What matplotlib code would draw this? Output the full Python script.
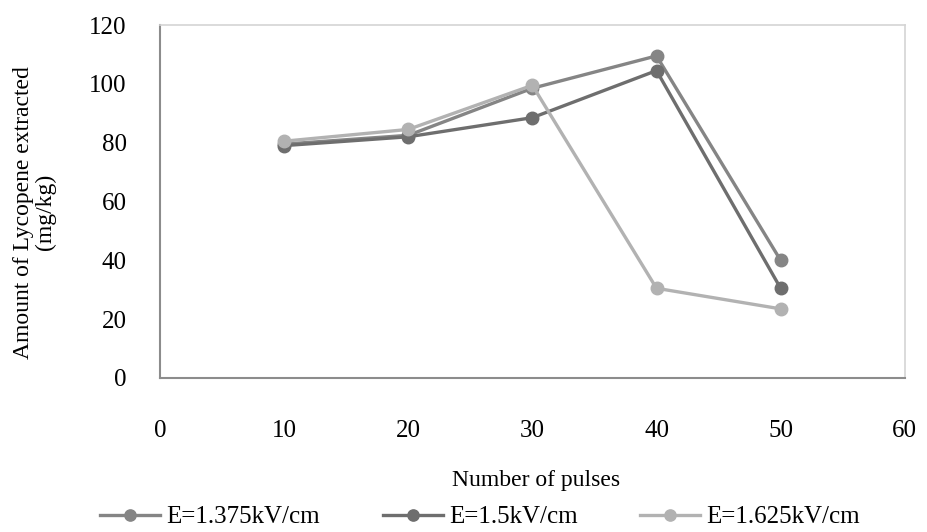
import numpy as np
import matplotlib.pyplot as plt

plt.rcParams['font.family'] = ['Liberation Serif', 'DejaVu Serif']

pulses = [10, 20, 30, 40, 50]
e_1375 = [79.5, 82.5, 98.5, 109.5, 40]
e_15 = [79, 82, 88.5, 104.5, 30.5]
e_1625 = [80.5, 84.5, 99.5, 30.5, 23.5]
labels = ['E=1.375kV/cm', 'E=1.5kV/cm', 'E=1.625kV/cm']
colors = ['#858585', '#6e6e6e', '#b2b2b2']

fig = plt.figure(figsize=(9.27, 5.32), dpi=100)
ax = fig.add_axes([0.1726, 0.2895, 0.8034, 0.6635])

for ys, lab, c in zip([e_1375, e_15, e_1625], labels, colors):
    ax.plot(pulses, ys, color=c, lw=2.4, marker='o', ms=9, label=lab)

ax.set_xlim(0, 60)
ax.set_ylim(0, 120)
ax.set_xticks(np.arange(0, 61, 10))
ax.set_yticks(np.arange(0, 121, 20))
ax.tick_params(length=0, labelsize=18)
ax.tick_params(axis='x', pad=30)
ax.tick_params(axis='y', pad=24)

for s in ['left', 'bottom']:
    ax.spines[s].set_color('#8c8c8c')
    ax.spines[s].set_linewidth(1.5)
for s in ['top', 'right']:
    ax.spines[s].set_color('#d4d4d4')
    ax.spines[s].set_linewidth(1.2)

ax.set_xlabel('Number of pulses', fontsize=17)
ax.xaxis.set_label_coords(0.505, -0.262)
ax.set_ylabel('Amount of Lycopene extracted\n(mg/kg)', fontsize=17, linespacing=1.05)
ax.yaxis.set_label_coords(-0.14, 0.47)

fig.legend(loc='center', bbox_to_anchor=(0.518, 0.028), ncol=3, frameon=False,
           fontsize=18, handlelength=2.4, handletextpad=0.25, columnspacing=2.5,
           markerscale=0.9)

fig.savefig('out.png', dpi=100)
